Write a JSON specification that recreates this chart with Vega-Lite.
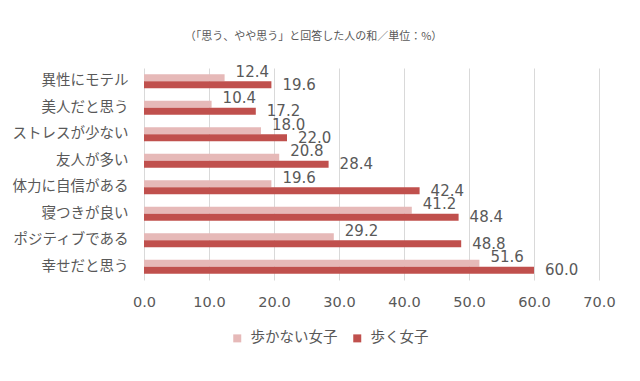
{
  "$schema": "https://vega.github.io/schema/vega-lite/v6.json",
  "width": 455,
  "height": 212,
  "autosize": {"type": "none"},
  "padding": {"left": 144, "top": 68, "right": 41, "bottom": 101},
  "background": "white",
  "config": {"view": {"stroke": null}, "font": "Noto Sans CJK JP"},
  "title": {
    "text": "（「思う、やや思う」と回答した人の和／単位：%）",
    "fontSize": 11,
    "fontWeight": "normal",
    "color": "#595959",
    "anchor": "middle",
    "frame": "group",
    "dx": -58,
    "offset": 23
  },
  "data": {
    "values": [
      {"cat": "異性にモテル", "series": "歩かない女子", "value": 12.4},
      {"cat": "異性にモテル", "series": "歩く女子", "value": 19.6},
      {"cat": "美人だと思う", "series": "歩かない女子", "value": 10.4},
      {"cat": "美人だと思う", "series": "歩く女子", "value": 17.2},
      {"cat": "ストレスが少ない", "series": "歩かない女子", "value": 18.0},
      {"cat": "ストレスが少ない", "series": "歩く女子", "value": 22.0},
      {"cat": "友人が多い", "series": "歩かない女子", "value": 20.8},
      {"cat": "友人が多い", "series": "歩く女子", "value": 28.4},
      {"cat": "体力に自信がある", "series": "歩かない女子", "value": 19.6},
      {"cat": "体力に自信がある", "series": "歩く女子", "value": 42.4},
      {"cat": "寝つきが良い", "series": "歩かない女子", "value": 41.2},
      {"cat": "寝つきが良い", "series": "歩く女子", "value": 48.4},
      {"cat": "ポジティブである", "series": "歩かない女子", "value": 29.2},
      {"cat": "ポジティブである", "series": "歩く女子", "value": 48.8},
      {"cat": "幸せだと思う", "series": "歩かない女子", "value": 51.6},
      {"cat": "幸せだと思う", "series": "歩く女子", "value": 60.0}
    ]
  },
  "encoding": {
    "y": {
      "field": "cat",
      "type": "nominal",
      "sort": ["異性にモテル", "美人だと思う", "ストレスが少ない", "友人が多い", "体力に自信がある", "寝つきが良い", "ポジティブである", "幸せだと思う"],
      "scale": {"paddingInner": 0.48, "paddingOuter": 0.24},
      "axis": {"title": null, "labelFontSize": 14.5, "labelColor": "#595959", "ticks": false, "domain": false, "labelPadding": 16}
    },
    "yOffset": {"field": "series", "type": "nominal", "sort": ["歩かない女子", "歩く女子"]},
    "x": {
      "field": "value",
      "type": "quantitative",
      "scale": {"domain": [0, 70]},
      "axis": {"values": [0, 10, 20, 30, 40, 50, 60, 70], "format": ".1f", "title": null, "grid": true, "gridColor": "#d9d9d9", "domain": false, "ticks": false, "labelFlush": false, "labelFont": "DejaVu Sans", "labelFontSize": 14.5, "labelColor": "#595959", "labelPadding": 15}
    }
  },
  "layer": [
    {
      "mark": {"type": "bar"},
      "encoding": {
        "color": {
          "field": "series",
          "type": "nominal",
          "sort": ["歩かない女子", "歩く女子"],
          "scale": {"domain": ["歩かない女子", "歩く女子"], "range": ["#E6B9B8", "#C0504D"]},
          "legend": {
            "title": null,
            "orient": "none",
            "legendX": 86,
            "legendY": 263,
            "direction": "horizontal",
            "symbolType": "square",
            "symbolSize": 64,
            "symbolStrokeWidth": 0,
            "labelFontSize": 14.5,
            "labelColor": "#595959",
            "labelOffset": 6,
            "columnPadding": 12
          }
        }
      }
    },
    {
      "transform": [{"filter": "datum.series === '歩かない女子'"}],
      "mark": {"type": "text", "align": "left", "baseline": "middle", "dx": 11, "dy": -6, "font": "DejaVu Sans", "fontSize": 15, "color": "#595959"},
      "encoding": {"text": {"field": "value", "type": "quantitative", "format": ".1f"}}
    },
    {
      "transform": [{"filter": "datum.series === '歩く女子'"}],
      "mark": {"type": "text", "align": "left", "baseline": "middle", "dx": 11, "dy": 0, "font": "DejaVu Sans", "fontSize": 15, "color": "#595959"},
      "encoding": {"text": {"field": "value", "type": "quantitative", "format": ".1f"}}
    }
  ]
}
